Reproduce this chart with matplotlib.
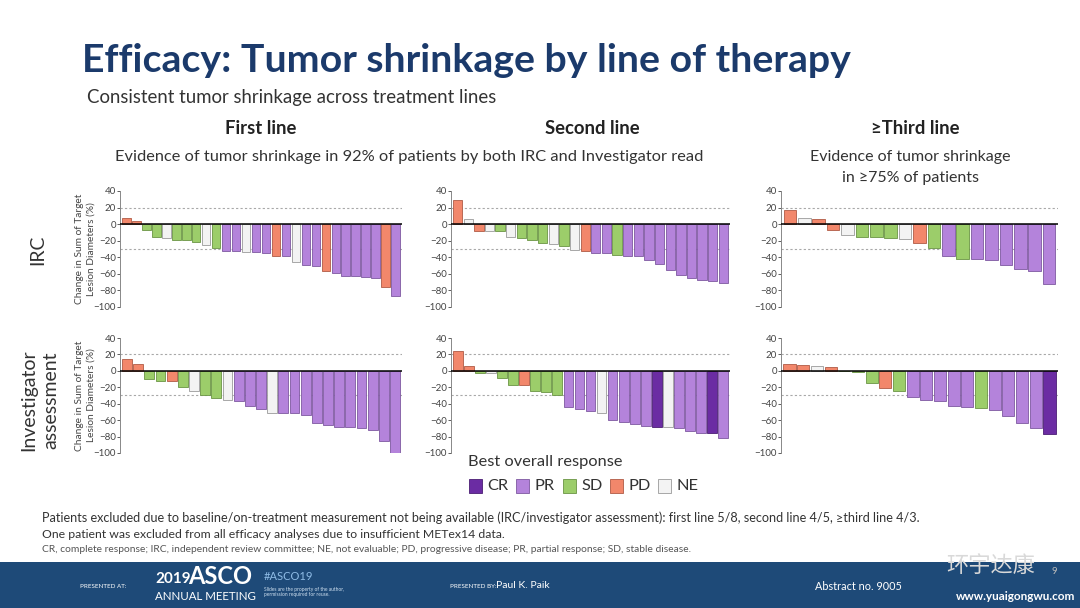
import numpy as np
import matplotlib
matplotlib.use("Agg")
import matplotlib.pyplot as plt
from matplotlib.patches import Rectangle

plt.rcParams['font.family'] = ['Lato', 'DejaVu Sans', 'Noto Sans CJK SC']

# ---- data ----
lines = ["First line", "Second line", "\u2265Third line"]

irc_first = [7, 4, -7, -15, -17, -19, -19, -21, -25, -29, -33, -33, -34, -34, -35,
             -38, -39, -46, -49, -50, -57, -59, -62, -63, -64, -65, -76, -87]
irc_first_resp = ("PD PD SD SD NE SD SD SD NE SD PR PR NE PR PR PD PR NE PR PR "
                  "PD PR PR PR PR PR PD PR").split()

irc_second = [29, 6, -8, -8, -8, -15, -17, -19, -23, -24, -26, -31, -32, -35, -35,
              -37, -38, -39, -43, -48, -55, -61, -65, -67, -69, -71]
irc_second_resp = ("PD NE PD NE SD NE SD SD SD NE SD NE PD PR PR SD PR PR PR PR "
                   "PR PR PR PR PR PR").split()

irc_third = [17, 8, 6, -7, -13, -15, -16, -17, -18, -23, -29, -38, -42, -42, -43,
             -49, -54, -56, -72]
irc_third_resp = "PD NE PD PD NE SD SD SD NE PD SD PR SD PR PR PR PR PR PR".split()

inv_first = [15, 8, -10, -12, -12, -20, -24, -30, -33, -36, -37, -43, -47, -51, -51,
             -51, -54, -64, -66, -68, -68, -69, -72, -85, -100]
inv_first_resp = ("PD PD SD SD PD SD NE SD SD NE PR PR PR NE PR PR PR PR PR PR "
                  "PR PR PR PR PR").split()

inv_second = [24, 6, -3, -2, -9, -17, -17, -24, -26, -29, -44, -47, -49, -51, -60,
              -62, -65, -67, -68, -68, -69, -73, -76, -76, -82]
inv_second_resp = ("PD PD SD NE SD SD PD SD SD SD PR PR PR NE PR PR PR PR CR NE "
                   "PR PR PR CR PR").split()

inv_third = [8, 7, 6, 5, 0, -1, -15, -21, -25, -32, -35, -37, -43, -44, -45, -48,
             -55, -63, -70, -77]
inv_third_resp = ("PD PD NE PD SD SD SD PD SD PR PR PR PR PR SD PR PR PR PR "
                  "CR").split()

resp_order = ["CR", "PR", "SD", "PD", "NE"]
colors = {"CR": "#6b2ca3", "PR": "#b483db", "SD": "#9ccd6a", "PD": "#f2876b", "NE": "#f3f3f3"}
edges = {"CR": "#4a1d73", "PR": "#7d58a0", "SD": "#6a9444", "PD": "#b05a45", "NE": "#9a9a9a"}

W, H = 1080, 608
fig = plt.figure(figsize=(W / 100, H / 100), dpi=100)
fig.patch.set_facecolor("white")


def fx(px):
    return px / W


def fy(py):
    return 1 - py / H


def waterfall(x0, x1, ytop, ybot, vals, resp):
    ax = fig.add_axes([fx(x0), fy(ybot), fx(x1) - fx(x0), (ybot - ytop) / H])
    n = len(vals)
    x = np.arange(n)
    ax.bar(x, vals, width=0.88, color=[colors[r] for r in resp],
           edgecolor=[edges[r] for r in resp], linewidth=0.6, zorder=2)
    ax.axhline(0, color="black", lw=1.1, zorder=3)
    for ref in (20, -30):
        ax.axhline(ref, color="#a8a8a8", lw=0.8, ls=(0, (2, 2)), zorder=1)
    ax.set_xlim(-0.62, n - 0.38)
    ax.set_ylim(-100, 40)
    ax.set_yticks(range(-100, 41, 20))
    ax.tick_params(axis="y", labelsize=7, colors="#444444", length=2, width=0.6, pad=1)
    ax.set_xticks([])
    for s in ("top", "right", "bottom"):
        ax.spines[s].set_visible(False)
    ax.spines["left"].set_color("#888888")
    ax.spines["left"].set_linewidth(0.7)
    ax.patch.set_alpha(0)
    return ax


xs = [(120, 402), (451, 730), (781, 1058)]
rows = [(191, 307), (338, 453)]
data = [
    [(irc_first, irc_first_resp), (irc_second, irc_second_resp), (irc_third, irc_third_resp)],
    [(inv_first, inv_first_resp), (inv_second, inv_second_resp), (inv_third, inv_third_resp)],
]
for r, (yt, yb) in enumerate(rows):
    for c, (x0, x1) in enumerate(xs):
        vals, resp = data[r][c]
        waterfall(x0, x1, yt, yb, vals, resp)
    fig.text(fx(85), fy((yt + yb) / 2), "Change in Sum of Target\nLesion Diameters (%)",
             rotation=90, ha="center", va="center", fontsize=7.3, color="#444444",
             linespacing=1.35)

# ---- titles ----
navy = "#1b3a6b"
fig.text(fx(82), fy(60), "Efficacy: Tumor shrinkage by line of therapy", fontsize=28.3,
         fontweight="bold", color=navy, ha="left", va="center")
fig.text(fx(87), fy(97), "Consistent tumor shrinkage across treatment lines", fontsize=13.4,
         color="#333333", ha="left", va="center")
for (x0, x1), name, cx in zip(xs, lines, [261, 592, 915]):
    fig.text(fx(cx), fy(129), name, fontsize=13.3, fontweight="bold", color="#222222",
             ha="center", va="center")
fig.text(fx(409), fy(157), "Evidence of tumor shrinkage in 92% of patients by both IRC and Investigator read",
         fontsize=11.8, color="#333333", ha="center", va="center")
fig.text(fx(910), fy(167.5), "Evidence of tumor shrinkage\nin \u226575% of patients",
         fontsize=11.5, color="#333333", ha="center", va="center", linespacing=1.55)

fig.text(fx(38), fy(250), "IRC", rotation=90, fontsize=14, color="#333333",
         ha="center", va="center")
fig.text(fx(40), fy(400), "Investigator\nassessment", rotation=90, fontsize=14,
         color="#333333", ha="center", va="center", linespacing=1.4)

# ---- legend ----
fig.text(fx(468), fy(462), "Best overall response", fontsize=11.8, color="#333333",
         ha="left", va="center")
for key, lx in zip(resp_order, [469, 516, 563, 610, 658]):
    fig.patches.append(Rectangle((fx(lx), fy(493)), 13 / W, 14 / H, transform=fig.transFigure,
                                 facecolor=colors[key], edgecolor=edges[key], lw=0.6))
    fig.text(fx(lx + 18), fy(486), key, fontsize=11.8, color="#333333",
             ha="left", va="center")

# ---- footnotes ----
fig.text(fx(42), fy(518), "Patients excluded due to baseline/on-treatment measurement not being available "
         "(IRC/investigator assessment): first line 5/8, second line 4/5, \u2265third line 4/3.",
         fontsize=9.1, color="#333333", ha="left", va="center")
fig.text(fx(42), fy(534), "One patient was excluded from all efficacy analyses due to insufficient METex14 data.",
         fontsize=8.8, color="#333333", ha="left", va="center")
fig.text(fx(42), fy(549), "CR, complete response; IRC, independent review committee; NE, not evaluable; "
         "PD, progressive disease; PR, partial response; SD, stable disease.",
         fontsize=7.4, color="#555555", ha="left", va="center")

# ---- footer band ----
fig.patches.append(Rectangle((0, 0), 1, (H - 562) / H, transform=fig.transFigure,
                             facecolor="#1e4a78", edgecolor="none"))
fig.text(fx(80), fy(586), "PRESENTED AT:", fontsize=4.5, color="white", ha="left", va="center")
fig.text(fx(155), fy(579), "2019", fontsize=11, fontweight="bold", color="white", ha="left", va="center")
fig.text(fx(188), fy(577), "ASCO", fontsize=17, fontweight="bold", color="white", ha="left", va="center")
fig.text(fx(155), fy(597), "ANNUAL MEETING", fontsize=8.3, color="white", ha="left", va="center")
fig.text(fx(264), fy(576), "#ASCO19", fontsize=8, color="#8fbce6", ha="left", va="center")
fig.text(fx(264), fy(592), "Slides are the property of the author,\npermission required for reuse.",
         fontsize=3.5, color="#cfe0f0", ha="left", va="center")
fig.text(fx(450), fy(586), "PRESENTED BY:", fontsize=4.5, color="white", ha="left", va="center")
fig.text(fx(496), fy(585), "Paul K. Paik", fontsize=7.5, color="white", ha="left", va="center")
fig.text(fx(815), fy(586), "Abstract no. 9005", fontsize=7.8, color="white", ha="left", va="center")
fig.text(fx(1052), fy(572), "9", fontsize=7, color="#bbbbbb", ha="left", va="center")

# watermark
fig.text(fx(946), fy(565), "环宇达康", fontsize=16, color="#d9d9d9", ha="left", va="center",
         family=["Noto Sans CJK SC", "DejaVu Sans"])
fig.text(fx(1075), fy(597), "www.yuaigongwu.com", fontsize=8.5, fontweight="bold",
         color="white", ha="right", va="center")

fig.savefig("out.png", dpi=100)
